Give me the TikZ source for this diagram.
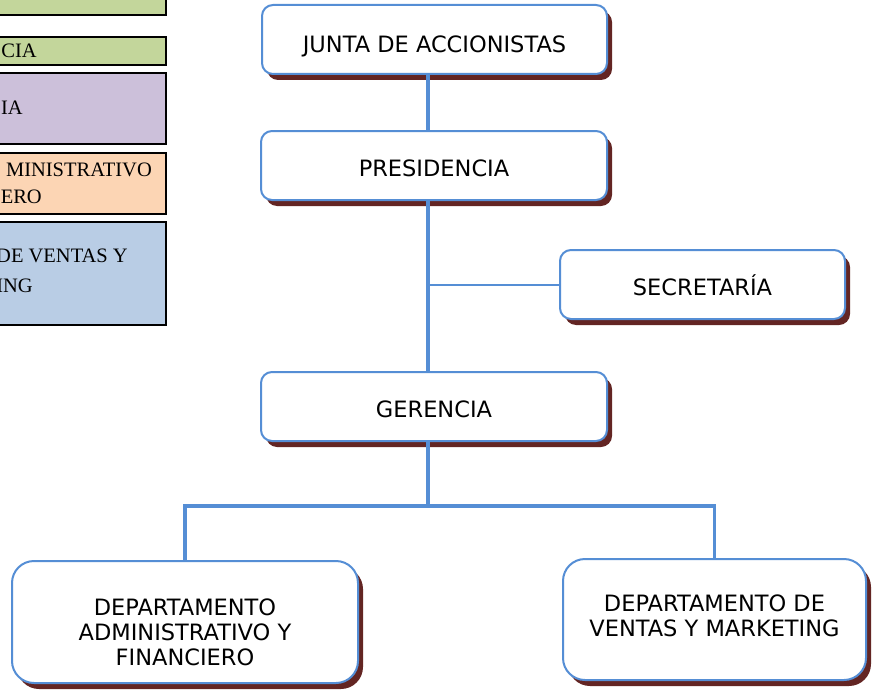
\documentclass[tikz,border=0pt]{standalone}
\usepackage{fontspec}
\usepackage{tikz}
\usetikzlibrary{shadows}
\newfontfamily\boxfont{DejaVu Sans}
\newfontfamily\legendfont{Liberation Serif}
\definecolor{boxblue}{RGB}{85,142,213}
\definecolor{shadowbrown}{RGB}{99,37,35}
\definecolor{legendgreen}{RGB}{195,214,155}
\definecolor{legendpurple}{RGB}{204,192,218}
\definecolor{legendorange}{RGB}{252,213,180}
\definecolor{legendblue}{RGB}{185,205,229}

\begin{document}
\begin{tikzpicture}[x=1pt,y=-1pt,
    orgbox/.style={draw=boxblue, line width=2pt, fill=white, rounded corners=11pt,
        inner sep=0pt, align=center, font=\boxfont\fontsize{22.5}{25}\selectfont,
        text height=22pt, text depth=0pt,
        drop shadow={shadow xshift=5pt, shadow yshift=-6pt, fill=shadowbrown, opacity=1}},
    deptbox/.style={orgbox, rounded corners=22pt},
    trunkline/.style={draw=boxblue, line width=3.5pt},
    branchline/.style={draw=boxblue, line width=2pt},
    legendbox/.style={draw=black, line width=2pt},
    legendtext/.style={anchor=base east, inner sep=0pt, font=\legendfont\fontsize{20.5}{23}\selectfont}]
    \useasboundingbox (0,0) rectangle (872,690);
    \clip (0,0) rectangle (872,690);

    \draw[legendbox, fill=legendgreen] (-10,-10) rectangle (166,15);
    \draw[legendbox, fill=legendgreen] (-10,37) rectangle (166,65);
    \node[legendtext] (legcia) at (37,58) {CIA};
    \draw[legendbox, fill=legendpurple] (-10,73) rectangle (166,144);
    \node[legendtext] (legia) at (23,115) {IA};
    \draw[legendbox, fill=legendorange] (-10,153) rectangle (166,214);
    \node[legendtext] (legadmin) at (152,176) {MINISTRATIVO};
    \node[legendtext] (legfin) at (42,203) {ERO};
    \draw[legendbox, fill=legendblue] (-10,222) rectangle (166,325);
    \node[legendtext] (legventas) at (128,262) {DE VENTAS Y};
    \node[legendtext] (legmkt) at (33,292) {ING};

    \node[orgbox, minimum width=345pt, minimum height=69pt, text height=27pt] (junta) at (434.5,39.5) {JUNTA DE ACCIONISTAS};
    \node[orgbox, minimum width=346pt, minimum height=69pt] (pres) at (434,165.5) {PRESIDENCIA};
    \node[orgbox, minimum width=285pt, minimum height=69pt] (secr) at (702.5,284.5) {SECRETARÍA};
    \node[orgbox, minimum width=346pt, minimum height=69pt] (ger) at (434,406.5) {GERENCIA};
    \node[deptbox, minimum width=346pt, minimum height=122pt, text height=86pt] (adm) at (185,622) {DEPARTAMENTO\\ADMINISTRATIVO Y\\FINANCIERO};
    \node[deptbox, minimum width=303pt, minimum height=121pt, text height=33pt] (ven) at (714.5,619.5) {DEPARTAMENTO DE\\VENTAS Y MARKETING};

    \coordinate (trunk) at (428,0);
    \coordinate (bus) at (428,506);
    \draw[trunkline] (junta.south -| trunk) -- (pres.north -| trunk);
    \draw[trunkline] (pres.south -| trunk) -- (ger.north -| trunk);
    \draw[branchline] (secr.west) -- (secr.west -| trunk);
    \draw[trunkline] (ger.south -| trunk) -- (bus);
    \draw[trunkline] (adm.north) |- (bus) -| (ven.north);

\end{tikzpicture}
\end{document}
